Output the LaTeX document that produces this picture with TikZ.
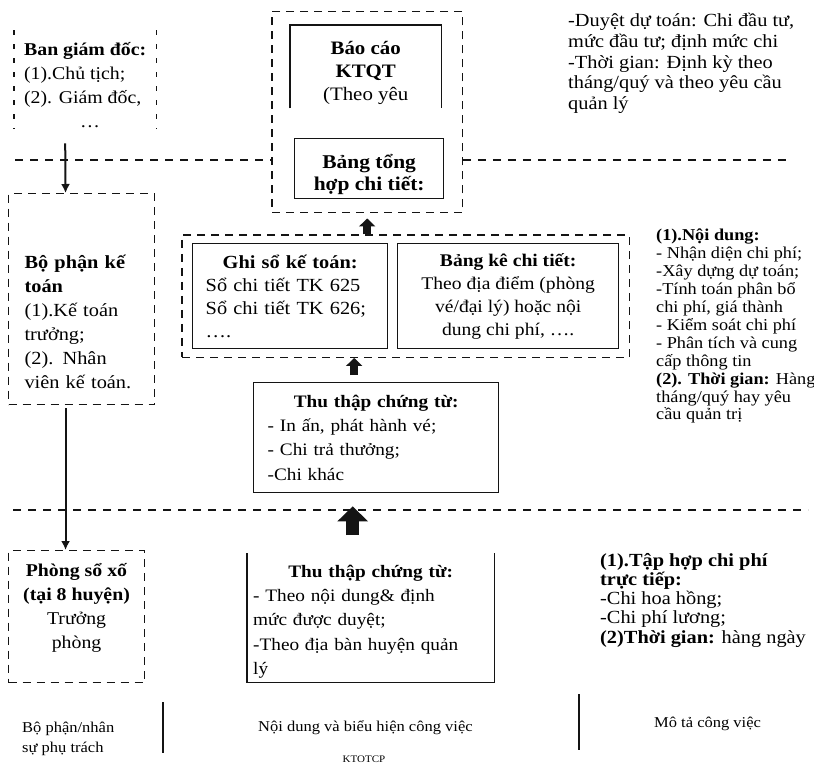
\documentclass[tikz,border=0pt]{standalone}
\usepackage{fontspec}
\setmainfont{Liberation Serif}[FakeStretch=1.1]
\usepackage{tikz}
\usetikzlibrary{arrows.meta,positioning,fit,backgrounds,calc}
\definecolor{ink}{HTML}{141414}

\begin{document}
\begin{tikzpicture}[x=1pt,y=-1pt,
  font=\fontsize{18}{24}\selectfont,
  box/.style={draw=ink,line width=1.4pt,inner sep=0pt,anchor=north west},
  dbox/.style={draw=ink,line width=1.1pt,dash pattern=on 8pt off 6pt,inner sep=0pt,anchor=north west},
  bare/.style={inner sep=0pt,anchor=north west},
  frameline/.style={draw=ink,line width=1.4pt},
  framedash/.style={draw=ink,line width=1.1pt,dash pattern=on 5pt off 9pt},
  sepline/.style={draw=ink,line width=1.1pt,dash pattern=on 8pt off 7pt},
  divider/.style={draw=ink,line width=1.3pt},
  arr/.style={-{Latex[length=9pt,width=9pt]},line width=2pt,draw=ink},
  uparr/.style={-{Triangle[length=8pt,width=16pt]},line width=8pt,draw=ink},
  bigup/.style={-{Triangle[length=15pt,width=30pt]},line width=13pt,draw=ink}]
\useasboundingbox (0,0) rectangle (814,766);

% board and reports
\node[bare,minimum width=142pt,minimum height=98pt,align=left] (bgd) at (14,30)
  {\rule{0pt}{24pt}\textbf{Ban giám đốc:}\\(1).Chủ tịch;\\(2). Giám đốc,\\\hspace*{56pt}…};
\draw[framedash] (bgd.north west) -- (bgd.south west);
\draw[framedash] (bgd.north east) -- (bgd.south east);

\node[bare,minimum width=151pt,minimum height=83pt,align=center,
      font=\fontsize{19}{23}\selectfont] (bc) at (290,25)
  {\rule{0pt}{25pt}\textbf{Báo cáo}\\\textbf{KTQT}\\(Theo yêu};
\draw[frameline] (bc.south west) -- (bc.north west) -- (bc.north east) -- (bc.south east);
\node[box,minimum width=149pt,minimum height=60pt,align=center,
      font=\fontsize{19.5}{22}\selectfont\bfseries] (btk) at (294,138)
  {\rule{0pt}{25pt}Bảng tổng\\hợp chi tiết:};

\node[bare,align=left,font=\fontsize{18.5}{20.8}\selectfont] (duyet) at (568,13)
  {-Duyệt dự toán: Chi đầu tư,\\mức đầu tư; định mức chi\\-Thời gian: Định kỳ theo\\tháng/quý và theo yêu cầu\\quản lý};

% accounting
\node[dbox,minimum width=146pt,minimum height=211pt,text width=114pt,align=left,
      font=\fontsize{18.5}{24}\selectfont] (bpkt) at (8,193)
  {\rule{0pt}{59pt}\textbf{Bộ phận kế}\\\textbf{toán}\\(1).Kế toán\\trưởng;\\(2). Nhân\\viên kế toán.};

\node[box,minimum width=195pt,minimum height=105pt,text width=169pt,align=left,
      font=\fontsize{18.5}{23}\selectfont] (gs) at (192,243)
  {\makebox[\linewidth]{\textbf{Ghi sổ kế toán:}}\\Sổ chi tiết TK 625\\Sổ chi tiết TK 626;\\….};
\node[box,minimum width=221pt,minimum height=105pt,align=center,
      font=\fontsize{17.8}{23}\selectfont] (bk) at (397,243)
  {\textbf{Bảng kê chi tiết:}\\Theo địa điểm (phòng\\vé/đại lý) hoặc nội\\dung chi phí, ….};

\node[box,minimum width=245pt,minimum height=110pt,text width=217pt,align=left,
      font=\fontsize{17.5}{24.4}\selectfont] (thuA) at (253,382)
  {\makebox[\linewidth]{\textbf{Thu thập chứng từ:}}\\- In ấn, phát hành vé;\\- Chi trả thưởng;\\-Chi khác};

\node[bare,align=left,font=\fontsize{16.6}{17.9}\selectfont] (noidung) at (656,229)
  {\textbf{(1).Nội dung:}\\- Nhận diện chi phí;\\-Xây dựng dự toán;\\-Tính toán phân bổ\\chi phí, giá thành\\- Kiểm soát chi phí\\- Phân tích và cung\\cấp thông tin\\\textbf{(2). Thời gian:} Hàng\\tháng/quý hay yêu\\cầu quản trị};

% lottery offices
\node[dbox,minimum width=136pt,minimum height=132pt,align=center,
      font=\fontsize{18}{24}\selectfont] (phong) at (8,550)
  {\textbf{Phòng sổ xố}\\\textbf{(tại 8 huyện)}\\Trưởng\\phòng\rule[-21pt]{0pt}{21pt}};

\node[bare,minimum width=247pt,minimum height=129pt,text width=235pt,align=left,
      font=\fontsize{17.5}{24.2}\selectfont] (thuB) at (247,553)
  {\rule{0pt}{20pt}\makebox[\linewidth]{\textbf{Thu thập chứng từ:}}\\- Theo nội dung\& định\\mức được duyệt;\\-Theo địa bàn huyện quản\\lý};
\draw[frameline] (thuB.north west) -- (thuB.south west) -- (thuB.south east) -- (thuB.north east);

\node[bare,align=left,font=\fontsize{18.5}{19.2}\selectfont] (taphop) at (600,553)
  {\textbf{(1).Tập hợp chi phí}\\\textbf{trực tiếp:}\\-Chi hoa hồng;\\-Chi phí lương;\\\textbf{(2)Thời gian:} hàng ngày};

\begin{scope}[on background layer]
  \node[draw=ink,line width=1.1pt,dash pattern=on 8pt off 6pt,fit=(bc)(btk),
        inner xsep=18pt,inner ysep=13.5pt] (bcgroup) {};
  \node[draw=ink,line width=1.1pt,dash pattern=on 8pt off 6pt,fit=(gs)(bk),
        inner xsep=10pt,inner ysep=8pt] (bkgroup) {};
\end{scope}

% level separators
\coordinate (s1l) at (15,160);
\coordinate (s1r) at (792,160);
\draw[sepline] (s1l) -- (s1l -| bcgroup.west);
\draw[sepline] (s1l -| bcgroup.east) -- (s1r);
\coordinate (s2l) at (13,510);
\coordinate (s2r) at (808,510);
\draw[sepline] (s2l) -- (s2r);

% connectors
\draw[arr] ($(bgd.south)+(-20,15)$) -- ($(bpkt.north)+(-16,0)$);
\draw[arr] ($(bpkt.south)+(-16,3)$) -- ($(phong.north)+(-11,0)$);
\draw[uparr] (bcgroup.south |- bkgroup.north) -- ($(bcgroup.south)+(0,5)$);
\draw[uparr] ($(thuA.north)+(-22,-7)$) -- ($(thuA.north |- bkgroup.south)+(-22,0)$);
\draw[bigup] ($(thuB.north)+(-18,-18)$) -- ($(thuB.north |- thuA.south)+(-18,13)$);

% column captions
\node[bare,align=left,font=\fontsize{15}{20}\selectfont] (bpnhan) at (22,722) {Bộ phận/nhân\\sự phụ trách};
\node[bare,font=\fontsize{15}{20}\selectfont] (ndcv) at (258,720) {Nội dung và biểu hiện công việc};
\node[bare,font=\fontsize{15}{20}\selectfont] (mota) at (654,717) {Mô tả công việc};
\node[inner sep=0pt,font=\fontsize{10}{12}\selectfont] (ktotcp) at (364,759) {KTOTCP};
\coordinate (v1t) at (163,702);
\coordinate (v1b) at (163,753);
\coordinate (v2t) at (579,694);
\coordinate (v2b) at (579,750);
\draw[divider] (v1t) -- (v1b);
\draw[divider] (v2t) -- (v2b);
\end{tikzpicture}
\end{document}
